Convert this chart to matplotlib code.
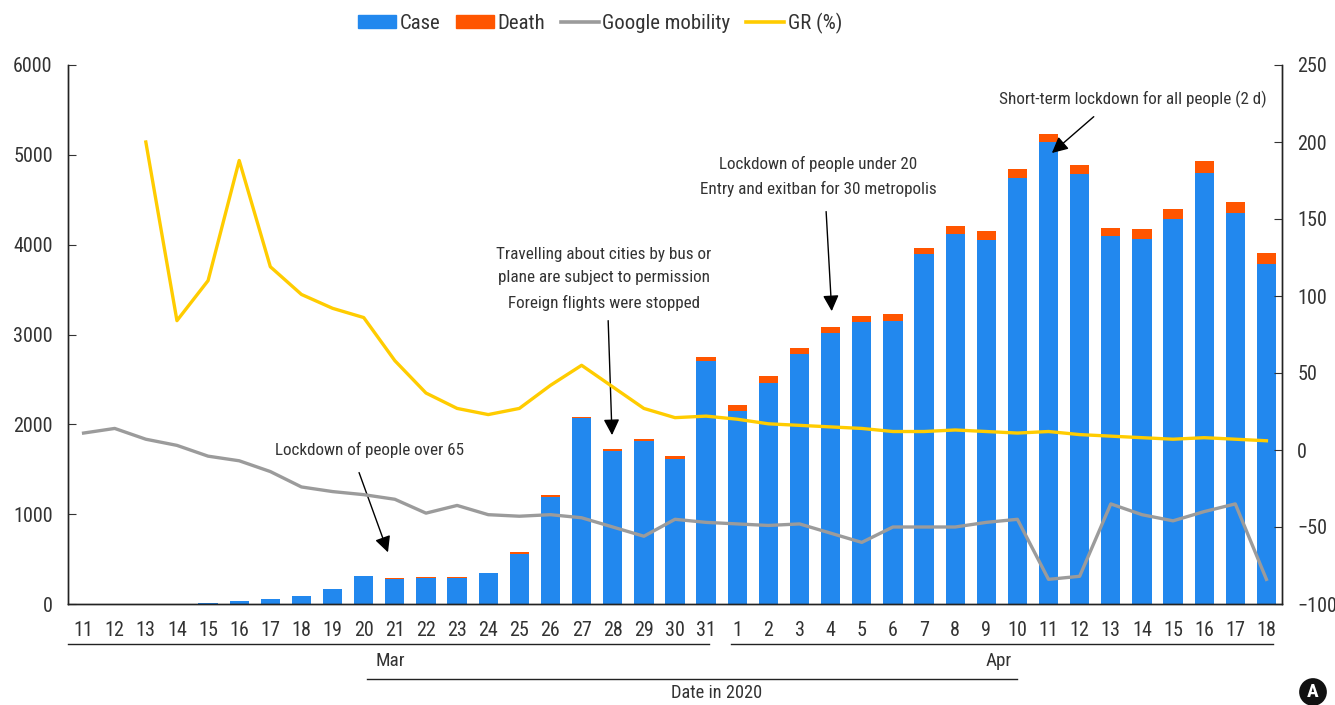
import matplotlib
matplotlib.use("Agg")
import matplotlib.pyplot as plt
import matplotlib.transforms as mtransforms
from matplotlib import font_manager
from matplotlib.patches import Patch
from matplotlib.lines import Line2D

# the reference uses a condensed face; take one if present, else Liberation Sans
installed = {f.name for f in font_manager.fontManager.ttflist}
condensed = [n for n in ['Roboto Condensed', 'Liberation Sans Narrow',
                         'DejaVu Sans Condensed', 'Open Sans Condensed',
                         'Noto Sans Condensed'] if n in installed]
if condensed:
    plt.rcParams['font.family'] = [condensed[0], 'DejaVu Sans']
    k = 1.15
else:
    plt.rcParams['font.family'] = ['Liberation Sans', 'DejaVu Sans']
    k = 1.0

# data: 11 Mar - 18 Apr 2020
days = ["11", "12", "13", "14", "15", "16", "17", "18", "19", "20", "21",
        "22", "23", "24", "25", "26", "27", "28", "29", "30", "31",
        "1", "2", "3", "4", "5", "6", "7", "8", "9", "10", "11", "12",
        "13", "14", "15", "16", "17", "18"]
cases = [1, 0, 4, 1, 12, 29, 51, 93, 168, 311, 277, 289, 293, 343, 561,
         1196, 2069, 1704, 1815, 1610, 2704,
         2148, 2456, 2786, 3013, 3135, 3148, 3892, 4117, 4056, 4747, 5138,
         4789, 4093, 4062, 4281, 4801, 4353, 3783]
deaths = [0, 0, 0, 0, 0, 0, 1, 1, 2, 5, 12, 9, 7, 7, 15, 16, 17, 16, 23,
          37, 46, 63, 79, 69, 76, 73, 75, 76, 87, 96, 98, 95, 97, 98, 107,
          115, 125, 126, 121]
mobility = [11, 14, 7, 3, -4, -7, -14, -24, -27, -29, -32, -41, -36, -42,
            -43, -42, -44, -50, -56, -45, -47, -48, -49, -48, -54, -60, -50,
            -50, -50, -47, -45, -84, -82, -35, -42, -46, -40, -35, -84]
# growth rate starts on 13 Mar
gr = [None, None, 200, 84, 110, 188, 119, 101, 92, 86, 58, 37, 27, 23, 27,
      42, 55, 41, 27, 21, 22, 20, 17, 16, 15, 14, 12, 12, 13, 12, 11, 12,
      10, 9, 8, 7, 8, 7, 6]

blue = "#2288EE"
orange = "#FF5500"
grey = "#9B9B9B"
yellow = "#FFCC00"
txt = "#333333"
fs_tick = 12.6 * k
fs_note = 10.7 * k

fig = plt.figure(figsize=(13.35, 7.05), dpi=100)
ax = fig.add_axes([68 / 1335, 1 - 604 / 705, 1214 / 1335, 539 / 705])
ax2 = ax.twinx()

x = list(range(len(days)))
ax.bar(x, cases, width=0.62, color=blue, zorder=2)
ax.bar(x, deaths, width=0.62, bottom=cases, color=orange, zorder=2)

ax2.plot(x, mobility, color=grey, lw=2.4)
gx = [i for i, v in zip(x, gr) if v is not None]
gy = [v for v in gr if v is not None]
ax2.plot(gx, gy, color=yellow, lw=2.4)

ax.set_xlim(-0.5, len(days) - 0.5)
ax.set_ylim(0, 6000)
ax.set_yticks(range(0, 6001, 1000))
ax2.set_ylim(-100, 250)
ax2.set_yticks(range(-100, 251, 50))
ax.set_xticks(x)
ax.set_xticklabels(days)

for a in (ax, ax2):
    a.spines['top'].set_visible(False)
    for s in ('left', 'right', 'bottom'):
        a.spines[s].set_color("#222222")
        a.spines[s].set_linewidth(1.0)
ax.tick_params(axis='y', direction='in', length=6, pad=11,
               labelsize=fs_tick, colors=txt)
ax.tick_params(axis='x', length=0, pad=12, labelsize=fs_tick, colors=txt)
ax2.tick_params(axis='y', direction='in', length=6, pad=11,
                labelsize=fs_tick, colors=txt)
ax2.set_zorder(ax.get_zorder() + 1)
ax2.patch.set_visible(False)

# date grouping lines under the axis
tr = mtransforms.blended_transform_factory(ax.transData, ax.transAxes)
for x0, x1, yy in [(-0.5, 20.1, -0.074), (20.8, 38.2, -0.074),
                   (9.1, 30.0, -0.139)]:
    ax.add_line(Line2D([x0, x1], [yy, yy], transform=tr, color="#222222",
                       lw=1.0, clip_on=False))
ax.text(9.85, -0.106, "Mar", transform=tr, ha='center', va='center',
        fontsize=12 * k, color=txt)
ax.text(29.4, -0.106, "Apr", transform=tr, ha='center', va='center',
        fontsize=12 * k, color=txt)
ax.text(20.35, -0.165, "Date in 2020", transform=tr, ha='center',
        va='center', fontsize=11.5 * k, color=txt)

# annotations (left axis data coords)
arrow = dict(arrowstyle='-|>', color='black', lw=1.0, mutation_scale=24)
ls = 1.7

ax.text(9.2, 1715, "Lockdown of people over 65", ha='center', va='center',
        fontsize=fs_note, color=txt)
ax.annotate("", xy=(9.81, 546), xytext=(8.82, 1492), arrowprops=arrow)

ax.text(16.72, 3620, "Travelling about cities by bus or\nplane are subject to permission\nForeign flights were stopped",
        ha='center', va='center', fontsize=fs_note, color=txt, linespacing=ls)
ax.annotate("", xy=(16.98, 1849), xytext=(16.85, 3185), arrowprops=arrow)

ax.text(23.59, 4755, "Lockdown of people under 20\nEntry and exitban for 30 metropolis",
        ha='center', va='center', fontsize=fs_note, color=txt, linespacing=ls)
ax.annotate("", xy=(24.04, 3229), xytext=(23.85, 4399), arrowprops=arrow)

ax.text(33.7, 5612, "Short-term lockdown for all people (2 d)",
        ha='center', va='center', fontsize=fs_note, color=txt)
ax.annotate("", xy=(31.04, 5000), xytext=(32.52, 5445), arrowprops=arrow)

# legend
handles = [Patch(color=blue), Patch(color=orange),
           Line2D([], [], color=grey, lw=2.6),
           Line2D([], [], color=yellow, lw=2.6)]
fig.legend(handles, ["Case", "Death", "Google mobility", "GR (%)"],
           loc='center', bbox_to_anchor=(600 / 1335, 1 - 23 / 705), ncol=4,
           frameon=False, fontsize=13 * k, handlelength=1.85,
           handleheight=0.65, handletextpad=0.15, columnspacing=0.75,
           labelcolor=txt)

# panel marker
fig.text(1313 / 1335, 1 - 692 / 705, "A", ha='center', va='center',
         fontsize=14, fontweight='bold', color='white',
         bbox=dict(boxstyle='circle,pad=0.25', fc='#111111', ec='none'))

fig.savefig("out.png", dpi=100)
